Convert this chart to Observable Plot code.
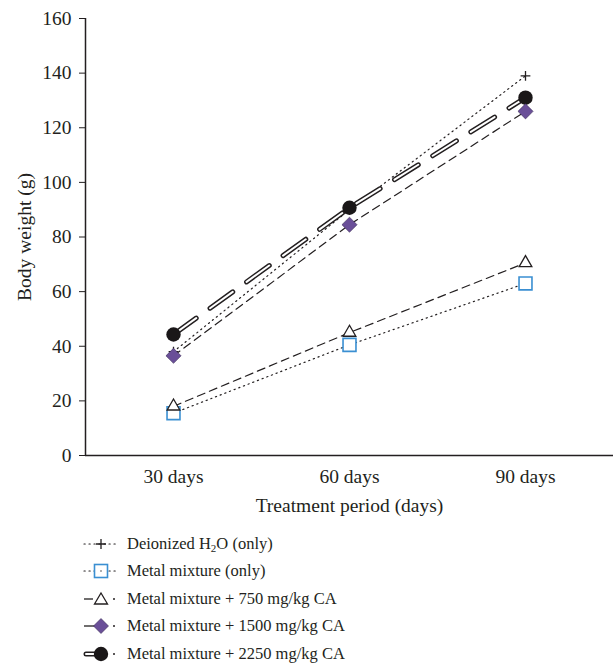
<!DOCTYPE html>
<html><head><meta charset="utf-8">
<script src="https://cdn.jsdelivr.net/npm/d3@7"></script>
<script src="https://cdn.jsdelivr.net/npm/@observablehq/plot@0.6"></script>
<style>
body{margin:0;background:#fff;font-family:"Liberation Serif",serif;color:#231f20;}
#legend{margin-left:80px;margin-top:10px;font-size:16.5px;}
.row{display:flex;align-items:center;height:27.5px;}
.row svg{width:42px;height:22px;margin-right:5px;}
sub{font-size:11px;vertical-align:-3px;line-height:0;}
</style></head>
<body><div id="chart"></div><div id="legend"></div>
<script>
const days = [30, 60, 90];
const dayLabels = ["30 days", "60 days", "90 days"];
const seriesNames = ["Deionized H2O (only)", "Metal mixture (only)", "Metal mixture + 750 mg/kg CA", "Metal mixture + 1500 mg/kg CA", "Metal mixture + 2250 mg/kg CA"];
const h2o = [38, 90, 139];
const metalOnly = [15.5, 40.5, 63];
const ca750 = [18, 45, 70.5];
const ca1500 = [36.5, 84.5, 126];
const ca2250 = [44.3, 90.7, 131];
const yTicks = [0, 20, 40, 60, 80, 100, 120, 140, 160];

const toRows = (vals) => days.map((d, i) => ({day: d, w: vals[i]}));
const plusSym = {draw(ctx, size){const r = Math.sqrt(size)/2; ctx.moveTo(-r,0); ctx.lineTo(r,0); ctx.moveTo(0,-r); ctx.lineTo(0,r);}};
const ink = "#231f20";

const chart = Plot.plot({
  width: 613, height: 520,
  marginLeft: 85, marginRight: 0, marginTop: 18, marginBottom: 65,
  style: {fontFamily: "Liberation Serif, serif", fontSize: "19.5px", color: ink, background: "#fff"},
  x: {domain: [15, 105], ticks: days, tickFormat: d => dayLabels[days.indexOf(d)], tickSize: 0, tickPadding: 14, label: "Treatment period (days)", labelAnchor: "center", labelOffset: 56, labelArrow: "none"},
  y: {domain: [0, 160], ticks: yTicks, tickSize: 6, tickPadding: 8, label: "Body weight (g)", labelAnchor: "center", labelOffset: 68, labelArrow: "none"},
  marks: [
    Plot.ruleY([0], {stroke: ink, strokeWidth: 1.5}),
    Plot.ruleX([15], {stroke: ink, strokeWidth: 1.5}),
    Plot.line(toRows(h2o), {x: "day", y: "w", stroke: ink, strokeWidth: 1.2, strokeDasharray: "1.2,3.8", strokeLinecap: "round"}),
    Plot.line(toRows(metalOnly), {x: "day", y: "w", stroke: ink, strokeWidth: 1.2, strokeDasharray: "1.2,3.8", strokeLinecap: "round"}),
    Plot.line(toRows(ca750), {x: "day", y: "w", stroke: ink, strokeWidth: 1.2, strokeDasharray: "8,5"}),
    Plot.line(toRows(ca1500), {x: "day", y: "w", stroke: ink, strokeWidth: 1.2, strokeDasharray: "8,5"}),
    Plot.line(toRows(ca2250), {x: "day", y: "w", stroke: ink, strokeWidth: 5, strokeDasharray: "28,17", strokeLinecap: "round"}),
    Plot.line(toRows(ca2250), {x: "day", y: "w", stroke: "#fff", strokeWidth: 2, strokeDasharray: "28,17", strokeLinecap: "round"}),
    Plot.dot(toRows(metalOnly), {x: "day", y: "w", symbol: "square", r: 7.3, fill: "#fff", stroke: "#3a8fd2", strokeWidth: 1.6}),
    Plot.dot(toRows(ca750), {x: "day", y: "w", symbol: "triangle", r: 4.7, fill: "#fff", stroke: ink, strokeWidth: 1.3}),
    Plot.dot(toRows(h2o), {x: "day", y: "w", symbol: plusSym, r: 5.5, fill: "none", stroke: ink, strokeWidth: 1.3}),
    Plot.dot(toRows(ca2250), {x: "day", y: "w", symbol: "circle", r: 7.2, fill: "#1a1718", stroke: "none"}),
    Plot.dot(toRows(ca1500), {x: "day", y: "w", symbol: "diamond2", r: 6.8, fill: "#6a4f98", stroke: "#3b2c55", strokeWidth: 0.6})
  ]
});
document.getElementById("chart").appendChild(chart);

const icons = [
  `<line x1="4" y1="11" x2="38" y2="11" stroke="${ink}" stroke-width="1.2" stroke-dasharray="1.2,3.8" stroke-linecap="round"/><path d="M21 6V16M16 11H26" stroke="${ink}" stroke-width="1.3"/>`,
  `<line x1="4" y1="11" x2="38" y2="11" stroke="${ink}" stroke-width="1.2" stroke-dasharray="1.2,3.8" stroke-linecap="round"/><rect x="14.5" y="4.5" width="13" height="13" fill="#fff" stroke="#3a8fd2" stroke-width="1.6"/><circle cx="21" cy="11" r="0.7" fill="${ink}"/>`,
  `<line x1="4" y1="11" x2="13" y2="11" stroke="${ink}" stroke-width="1.3"/><line x1="33" y1="11" x2="35" y2="11" stroke="${ink}" stroke-width="1.3"/><path d="M21 5L27.5 16H14.5Z" fill="#fff" stroke="${ink}" stroke-width="1.3"/>`,
  `<line x1="4" y1="11" x2="15" y2="11" stroke="${ink}" stroke-width="1.3"/><line x1="33" y1="11" x2="35" y2="11" stroke="${ink}" stroke-width="1.3"/><path d="M21 3.5L28.5 11L21 18.5L13.5 11Z" fill="#6a4f98" stroke="#3b2c55" stroke-width="0.6"/>`,
  `<line x1="6" y1="11" x2="16" y2="11" stroke="${ink}" stroke-width="5" stroke-linecap="round"/><line x1="6" y1="11" x2="16" y2="11" stroke="#fff" stroke-width="2" stroke-linecap="round"/><circle cx="34" cy="11" r="1" fill="${ink}"/><circle cx="21" cy="11" r="7.2" fill="#1a1718"/>`
];
const labelsHtml = [
  "Deionized H<sub>2</sub>O (only)",
  "Metal mixture (only)",
  "Metal mixture + 750 mg/kg CA",
  "Metal mixture + 1500 mg/kg CA",
  "Metal mixture + 2250 mg/kg CA"
];
const legend = document.getElementById("legend");
seriesNames.forEach((name, i) => {
  const row = document.createElement("div");
  row.className = "row";
  row.title = name;
  row.innerHTML = `<svg viewBox="0 0 42 22">${icons[i]}</svg><span>${labelsHtml[i]}</span>`;
  legend.appendChild(row);
});
</script>
</body></html>
